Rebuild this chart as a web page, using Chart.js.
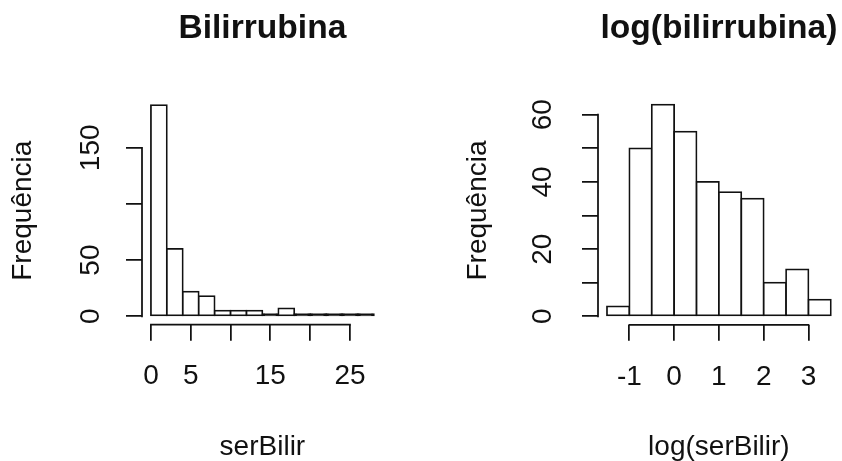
<!DOCTYPE html>
<html>
<head>
<meta charset="utf-8">
<script src="https://cdn.jsdelivr.net/npm/chart.js@4.4.0/dist/chart.umd.min.js"></script>
<style>
  html, body { margin: 0; padding: 0; background: #fff; }
  #page { position: relative; width: 842px; height: 461px; overflow: hidden; }
  canvas { position: absolute; top: 0; }
  #hist-bili { left: 0; }
  #hist-logbili { left: 456px; }
</style>
</head>
<body>
<div id="page">
  <canvas id="hist-bili" width="456" height="461"></canvas>
  <canvas id="hist-logbili" width="456" height="461"></canvas>
</div>
<script>
// serBilir: bins of width 2
const biliBreaks = [0, 2, 4, 6, 8, 10, 12, 14, 16, 18, 20, 22, 24, 26, 28];
const biliCounts = [188, 60, 22, 18, 5, 5, 5, 2, 7, 2, 2, 2, 2, 2];
const biliXTicks = [0, 5, 10, 15, 20, 25];
const biliXLabels = ["0", "5", "", "15", "", "25"];
const biliYTicks = [0, 50, 100, 150];
const biliYLabels = ["0", "50", "", "150"];

// log(serBilir): bins of width 0.5
const logBreaks = [-1.5, -1, -0.5, 0, 0.5, 1, 1.5, 2, 2.5, 3, 3.5];
const logCounts = [3, 50, 63, 55, 40, 37, 35, 10, 14, 5];
const logXTicks = [-1, 0, 1, 2, 3];
const logXLabels = ["-1", "0", "1", "2", "3"];
const logYTicks = [0, 10, 20, 30, 40, 50, 60];
const logYLabels = ["0", "", "20", "", "40", "", "60"];

const ink = "#111";
const family = '"Liberation Sans", Arial, sans-serif';
const lineW = 1.75;
Chart.defaults.font.family = family;
Chart.defaults.color = ink;

// axis lines only span the tick range, like base R graphics
const rFrame = {
  id: "rFrame",
  afterDraw(chart, args, opts) {
    const { ctx, chartArea, scales } = chart;
    const xt = scales.x.ticks, yt = scales.y.ticks;
    ctx.save();
    ctx.strokeStyle = ink;
    ctx.lineWidth = lineW;
    ctx.lineCap = "square";
    ctx.beginPath();
    ctx.moveTo(scales.x.getPixelForValue(xt[0].value), chartArea.bottom);
    ctx.lineTo(scales.x.getPixelForValue(xt[xt.length - 1].value), chartArea.bottom);
    ctx.moveTo(chartArea.left, scales.y.getPixelForValue(yt[0].value));
    ctx.lineTo(chartArea.left, scales.y.getPixelForValue(yt[yt.length - 1].value));
    ctx.stroke();

    ctx.fillStyle = ink;
    ctx.font = "bold 33.6px " + family;
    ctx.textAlign = "center";
    ctx.textBaseline = "alphabetic";
    ctx.fillText(opts.text, (chartArea.left + chartArea.right) / 2, 38);
    ctx.restore();
  }
};

// bars too short to show a white inside are drawn solid
function barFill(c) {
  const y = c.chart.scales.y;
  if (!c.parsed) return "#fff";
  const h = y.getPixelForValue(0) - y.getPixelForValue(c.parsed.y);
  return h < 2 * lineW ? ink : "#fff";
}

function hist(id, cfg) {
  const { breaks, counts } = cfg;
  const points = counts.map((c, i) => ({ x: (breaks[i] + breaks[i + 1]) / 2, y: c }));
  const xr = breaks[breaks.length - 1] - breaks[0];
  const ymax = Math.max(...counts);

  const tickFont = { size: 28, lineHeight: 1 };
  const grid = {
    display: true,
    drawOnChartArea: false,
    drawTicks: true,
    tickLength: 16,
    tickColor: ink,
    tickWidth: lineW,
    lineWidth: lineW,
    offset: false
  };

  return new Chart(document.getElementById(id), {
    type: "bar",
    data: {
      datasets: [{
        data: points,
        backgroundColor: barFill,
        borderColor: ink,
        borderWidth: lineW,
        inflateAmount: lineW / 2,
        borderSkipped: false,
        barPercentage: 1,
        categoryPercentage: 1
      }]
    },
    options: {
      responsive: false,
      animation: false,
      events: [],
      layout: { padding: { top: cfg.top, right: cfg.right, left: 0, bottom: 0 } },
      plugins: {
        legend: { display: false },
        tooltip: { enabled: false },
        rFrame: { text: cfg.title }
      },
      scales: {
        x: {
          type: "linear",
          offset: false,
          min: breaks[0] - 0.04 * xr,
          max: breaks[breaks.length - 1] + 0.04 * xr,
          border: { display: false },
          grid: grid,
          afterBuildTicks: s => { s.ticks = cfg.xTicks.map(v => ({ value: v })); },
          afterFit: s => { s.height = cfg.xHeight; },
          ticks: {
            autoSkip: false,
            maxRotation: 0,
            padding: 22,
            color: ink,
            font: tickFont,
            callback: (v, i) => cfg.xLabels[i]
          },
          title: {
            display: true,
            text: cfg.xTitle,
            color: ink,
            font: { size: 28, lineHeight: 1 },
            padding: { top: 0, bottom: 0 }
          }
        },
        y: {
          type: "linear",
          min: -0.04 * ymax,
          max: 1.04 * ymax,
          border: { display: false },
          grid: grid,
          afterBuildTicks: s => { s.ticks = cfg.yTicks.map(v => ({ value: v })); },
          afterFit: s => { s.width = 142; },
          ticks: {
            autoSkip: false,
            minRotation: 90,
            maxRotation: 90,
            crossAlign: "center",
            padding: cfg.yPad,
            color: ink,
            font: tickFont,
            callback: (v, i) => cfg.yLabels[i]
          },
          title: {
            display: true,
            text: "Frequência",
            color: ink,
            font: { size: 28, lineHeight: 1 },
            padding: { top: cfg.yTitlePad, bottom: 0 }
          }
        }
      }
    },
    plugins: [rFrame]
  });
}

hist("hist-bili", {
  breaks: biliBreaks, counts: biliCounts,
  xTicks: biliXTicks, xLabels: biliXLabels,
  yTicks: biliYTicks, yLabels: biliYLabels,
  title: "Bilirrubina", xTitle: "serBilir",
  top: 96.7, right: 73.2, xHeight: 136.3, yPad: 11.6, yTitlePad: 9
});

hist("hist-logbili", {
  breaks: logBreaks, counts: logCounts,
  xTicks: logXTicks, xLabels: logXLabels,
  yTicks: logYTicks, yLabels: logYLabels,
  title: "log(bilirrubina)", xTitle: "log(serBilir)",
  top: 96.2, right: 72.2, xHeight: 136.2, yPad: 23.1, yTitlePad: 8
});
</script>
</body>
</html>
